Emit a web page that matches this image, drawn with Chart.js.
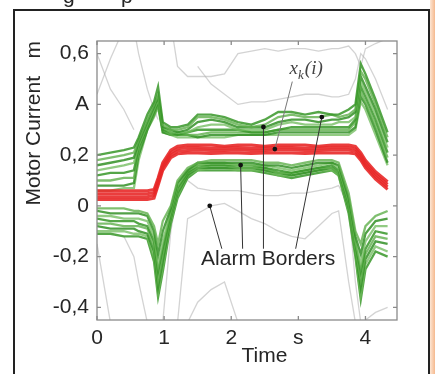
<!DOCTYPE html>
<html>
<head>
<meta charset="utf-8">
<script src="https://cdn.jsdelivr.net/npm/chart.js@4"></script>
<style>
  html, body { margin: 0; padding: 0; background: #fff; }
</style>
</head>
<body>
<canvas id="chMotor" width="435" height="374"></canvas>
<script>
// time grid (s) shared by all traces
var times = [0, 0.2, 0.4, 0.55, 0.62, 0.75, 0.85, 0.91, 0.98, 1.1, 1.2, 1.35, 1.5, 1.7, 1.9, 2.1,
             2.3, 2.5, 2.7, 2.9, 3.1, 3.3, 3.5, 3.6, 3.75, 3.85, 3.93, 4.0, 4.15, 4.33];

// upper alarm border runs (green)
var upperBorder = [
  [0.20,0.21,0.22,0.23,0.27,0.36,0.41,0.47,0.33,0.31,0.31,0.32,0.36,0.36,0.35,0.33,0.32,0.34,0.37,0.37,0.36,0.37,0.36,0.36,0.38,0.40,0.56,0.52,0.42,0.29],
  [0.18,0.19,0.20,0.21,0.26,0.34,0.40,0.44,0.32,0.30,0.30,0.31,0.35,0.35,0.34,0.32,0.31,0.32,0.35,0.36,0.35,0.35,0.36,0.35,0.36,0.38,0.53,0.50,0.40,0.27],
  [0.16,0.17,0.18,0.19,0.25,0.33,0.39,0.43,0.31,0.30,0.29,0.30,0.33,0.34,0.33,0.31,0.31,0.31,0.33,0.34,0.34,0.33,0.34,0.34,0.35,0.37,0.51,0.47,0.38,0.25],
  [0.14,0.15,0.16,0.17,0.24,0.32,0.38,0.42,0.31,0.29,0.29,0.29,0.31,0.32,0.32,0.30,0.30,0.30,0.32,0.33,0.32,0.32,0.32,0.33,0.33,0.35,0.49,0.45,0.36,0.23],
  [0.12,0.13,0.13,0.14,0.23,0.31,0.37,0.41,0.30,0.29,0.28,0.29,0.30,0.30,0.30,0.30,0.29,0.29,0.30,0.31,0.31,0.31,0.31,0.31,0.31,0.34,0.47,0.43,0.34,0.21],
  [0.10,0.10,0.11,0.11,0.22,0.31,0.36,0.40,0.30,0.28,0.28,0.28,0.28,0.29,0.29,0.29,0.29,0.29,0.30,0.30,0.30,0.30,0.30,0.30,0.30,0.33,0.45,0.41,0.32,0.19],
  [0.08,0.08,0.08,0.09,0.20,0.30,0.36,0.40,0.29,0.28,0.28,0.28,0.27,0.28,0.28,0.28,0.28,0.28,0.29,0.29,0.29,0.29,0.29,0.29,0.29,0.31,0.43,0.40,0.30,0.17],
  [0.06,0.06,0.07,0.07,0.18,0.30,0.35,0.39,0.29,0.28,0.27,0.27,0.27,0.27,0.27,0.28,0.28,0.28,0.28,0.28,0.28,0.28,0.28,0.28,0.28,0.30,0.41,0.38,0.28,0.16]
];

// lower alarm border runs (green)
var lowerBorder = [
  [-0.01,-0.01,-0.01,-0.02,-0.02,-0.03,-0.08,-0.15,-0.06,0.00,0.10,0.15,0.17,0.18,0.18,0.18,0.18,0.17,0.17,0.16,0.17,0.18,0.18,0.17,0.05,-0.10,-0.15,-0.08,-0.04,-0.02],
  [-0.02,-0.03,-0.03,-0.03,-0.03,-0.04,-0.10,-0.19,-0.10,-0.01,0.09,0.14,0.17,0.17,0.17,0.17,0.17,0.16,0.16,0.15,0.16,0.17,0.17,0.16,0.03,-0.12,-0.19,-0.11,-0.06,-0.05],
  [-0.04,-0.04,-0.05,-0.05,-0.05,-0.06,-0.12,-0.23,-0.14,-0.02,0.08,0.14,0.16,0.17,0.17,0.16,0.16,0.16,0.15,0.14,0.15,0.16,0.17,0.15,0.02,-0.14,-0.23,-0.14,-0.08,-0.08],
  [-0.05,-0.06,-0.06,-0.06,-0.07,-0.08,-0.14,-0.26,-0.17,-0.03,0.07,0.13,0.16,0.16,0.16,0.16,0.16,0.15,0.14,0.13,0.14,0.15,0.16,0.14,0.01,-0.15,-0.26,-0.17,-0.10,-0.11],
  [-0.07,-0.07,-0.08,-0.08,-0.08,-0.09,-0.16,-0.29,-0.19,-0.04,0.06,0.13,0.15,0.16,0.16,0.15,0.15,0.15,0.13,0.13,0.14,0.15,0.15,0.13,0.00,-0.17,-0.29,-0.19,-0.12,-0.13],
  [-0.08,-0.09,-0.09,-0.09,-0.10,-0.11,-0.18,-0.32,-0.22,-0.05,0.05,0.12,0.15,0.15,0.15,0.15,0.15,0.14,0.13,0.12,0.13,0.14,0.15,0.13,-0.01,-0.18,-0.32,-0.21,-0.14,-0.15],
  [-0.10,-0.10,-0.10,-0.11,-0.11,-0.12,-0.20,-0.34,-0.24,-0.06,0.04,0.12,0.14,0.15,0.15,0.14,0.14,0.14,0.12,0.12,0.13,0.14,0.14,0.12,-0.02,-0.19,-0.35,-0.23,-0.16,-0.18],
  [-0.11,-0.11,-0.12,-0.12,-0.12,-0.13,-0.22,-0.36,-0.26,-0.07,0.03,0.11,0.14,0.14,0.14,0.14,0.14,0.13,0.12,0.11,0.12,0.13,0.14,0.12,-0.03,-0.20,-0.37,-0.25,-0.18,-0.20]
];

// x_k(i) runs (red)
var meanTrace = [
  [0.060,0.060,0.060,0.060,0.060,0.060,0.065,0.11,0.17,0.22,0.235,0.240,0.240,0.240,0.235,0.240,0.240,0.235,0.240,0.240,0.240,0.235,0.240,0.240,0.240,0.235,0.21,0.18,0.135,0.095],
  [0.048,0.048,0.048,0.048,0.048,0.048,0.053,0.10,0.16,0.21,0.225,0.230,0.230,0.228,0.228,0.230,0.228,0.228,0.230,0.230,0.228,0.228,0.230,0.230,0.230,0.225,0.20,0.17,0.125,0.085],
  [0.036,0.036,0.036,0.036,0.036,0.036,0.042,0.09,0.15,0.20,0.215,0.218,0.220,0.218,0.218,0.220,0.218,0.218,0.220,0.220,0.218,0.218,0.220,0.220,0.220,0.215,0.19,0.16,0.115,0.075],
  [0.025,0.025,0.025,0.025,0.025,0.025,0.030,0.08,0.14,0.19,0.205,0.208,0.208,0.206,0.208,0.208,0.206,0.208,0.208,0.208,0.206,0.208,0.208,0.208,0.208,0.205,0.18,0.15,0.105,0.065]
];

// other recorded runs (light gray background)
var n = null;
var otherRuns = [
  [n,n,n,n,n,n,n,n,n,0.72,0.55,0.51,0.51,0.51,0.52,0.60,0.61,0.62,0.61,0.62,0.62,0.61,0.62,0.62,0.63,0.60,0.55,0.62,0.64,0.66],
  [n,n,n,n,n,n,n,n,n,n,n,n,0.55,0.48,0.44,0.40,0.41,0.41,0.42,0.43,0.44,0.44,0.43,0.43,0.44,0.50,0.60,0.58,0.50,0.38],
  [0.44,0.58,0.70,n,n,n,n,n,n,n,n,n,n,n,n,n,n,n,n,n,n,n,n,n,n,n,n,n,n,n],
  [n,n,n,0.70,0.60,0.46,0.38,0.34,n,n,n,n,n,n,n,n,n,n,n,n,n,n,n,n,n,n,n,n,n,n],
  [0.60,0.46,0.38,0.30,n,n,n,n,n,n,n,n,n,n,n,n,n,n,n,n,n,n,n,n,n,n,n,n,n,n],
  [n,n,n,n,n,n,n,n,n,n,-0.46,-0.05,-0.03,0.00,0.01,-0.02,-0.05,-0.07,-0.10,-0.12,-0.13,-0.08,-0.03,-0.02,-0.30,-0.46,n,n,n,n],
  [n,n,n,n,n,n,n,n,n,n,n,0.10,0.07,0.06,0.06,0.06,0.05,0.04,0.04,0.05,0.05,0.06,0.07,0.08,0.00,-0.30,-0.46,n,n,n],
  [n,n,n,n,n,n,n,n,n,n,n,-0.46,-0.38,-0.33,-0.30,-0.46,n,n,n,n,n,n,n,n,n,n,n,n,n,n],
  [-0.15,-0.46,n,n,n,n,n,n,n,n,n,n,n,n,n,n,n,n,n,n,n,n,n,n,n,n,n,n,n,n],
  [n,n,-0.12,-0.20,-0.30,-0.46,n,n,n,n,n,n,n,n,n,n,n,n,n,n,n,n,n,n,n,n,n,n,n,n],
  [n,n,n,n,n,n,n,n,-0.46,-0.10,0.05,n,n,n,n,n,n,n,n,n,n,n,n,n,n,n,n,n,n,n],
  [n,n,n,n,n,n,n,n,n,n,n,n,n,n,n,n,n,n,n,n,n,n,n,n,n,n,n,-0.45,-0.42,-0.40]
];

var xTicks = [0, 1, 2, 3, 4];
var xTickLabels = ['0', '1', '2', 's', '4'];
var yTicks = [-0.4, -0.2, 0, 0.2, 0.4, 0.6];
var yTickLabels = ['-0,4', '-0,2', '0', '0,2', 'A', '0,6'];

var greens = ['rgba(55,150,40,0.85)', 'rgba(95,175,75,0.8)', 'rgba(50,145,38,0.85)', 'rgba(110,185,90,0.75)'];
var txt = '#262626';
var font = "'Liberation Sans', Arial, sans-serif";

function toPoints(vals) {
  return times.map(function (t, i) { return { x: t, y: vals[i] }; });
}

var datasets = [];
meanTrace.forEach(function (v) {
  datasets.push({ data: toPoints(v), borderColor: 'rgba(232,40,40,0.9)', borderWidth: 3, order: 1 });
});
upperBorder.forEach(function (v, i) {
  datasets.push({ data: toPoints(v), borderColor: greens[i % 4], borderWidth: 2.3, order: 2 });
});
lowerBorder.forEach(function (v, i) {
  datasets.push({ data: toPoints(v), borderColor: greens[(i + 1) % 4], borderWidth: 2.3, order: 2 });
});
otherRuns.forEach(function (v) {
  datasets.push({ data: toPoints(v), borderColor: 'rgba(175,175,175,0.55)', borderWidth: 1.3, order: 3 });
});

// frame, plot box, inward ticks and the annotations
var decor = {
  id: 'decor',
  beforeDraw: function (chart) {
    var c = chart.ctx;
    c.save();
    c.fillStyle = '#fff';
    c.fillRect(0, 0, chart.width, chart.height);
    var g = c.createLinearGradient(430, 0, 435, 0);
    g.addColorStop(0, '#fde6d4');
    g.addColorStop(1, '#f5b98e');
    c.fillStyle = g;
    c.fillRect(430, 0, 5, chart.height);
    c.restore();
  },
  afterDatasetsDraw: function (chart) {
    var c = chart.ctx, a = chart.chartArea;
    var xs = chart.scales.x, ys = chart.scales.y;
    c.save();
    // plot box
    c.strokeStyle = '#8a8a8a';
    c.lineWidth = 1.3;
    c.strokeRect(a.left, a.top, a.right - a.left, a.bottom - a.top);
    c.beginPath();
    xTicks.forEach(function (t) {
      var px = xs.getPixelForValue(t);
      c.moveTo(px, a.bottom); c.lineTo(px, a.bottom - 4);
      c.moveTo(px, a.top); c.lineTo(px, a.top + 4);
    });
    yTicks.forEach(function (v) {
      var py = ys.getPixelForValue(v);
      c.moveTo(a.left, py); c.lineTo(a.left + 4, py);
      c.moveTo(a.right, py); c.lineTo(a.right - 4, py);
    });
    c.stroke();

    function P(t, v) { return [xs.getPixelForValue(t), ys.getPixelForValue(v)]; }

    // "Alarm Borders" label box
    var b0 = P(1.34, -0.142), b1 = P(3.63, -0.295);
    c.fillStyle = '#fff';
    c.fillRect(b0[0], b0[1], b1[0] - b0[0], b1[1] - b0[1]);

    // leader lines
    c.strokeStyle = '#333';
    c.lineWidth = 1;
    var leaders = [[1.68, 0.0, 1.86], [2.14, 0.161, 2.17], [2.48, 0.311, 2.48], [3.35, 0.35, 2.96]];
    c.beginPath();
    leaders.forEach(function (l) {
      var p = P(l[0], l[1]), q = P(l[2], -0.169);
      c.moveTo(p[0], p[1]); c.lineTo(q[0], q[1]);
    });
    c.stroke();
    c.strokeStyle = '#777';
    var k0 = P(2.91, 0.49), k1 = P(2.65, 0.224);
    c.beginPath(); c.moveTo(k0[0], k0[1]); c.lineTo(k1[0], k1[1]); c.stroke();

    c.fillStyle = '#111';
    leaders.concat([[2.65, 0.224]]).forEach(function (l) {
      var p = P(l[0], l[1]);
      c.beginPath(); c.arc(p[0], p[1], 2.4, 0, Math.PI * 2); c.fill();
    });

    c.fillStyle = txt;
    c.font = '21px ' + font;
    c.textAlign = 'center';
    c.textBaseline = 'middle';
    var lp = P(2.55, -0.209);
    c.fillText('Alarm Borders', lp[0], lp[1]);

    // x_k(i)
    var xp = P(2.87, 0.52);
    c.fillStyle = '#444';
    c.textAlign = 'left';
    c.textBaseline = 'alphabetic';
    c.font = "italic 19px 'Liberation Serif', serif";
    c.fillText('x', xp[0], xp[1]);
    var wx = c.measureText('x').width;
    c.font = "italic 13px 'Liberation Serif', serif";
    c.fillText('k', xp[0] + wx, xp[1] + 5);
    var wk = c.measureText('k').width;
    c.font = "italic 19px 'Liberation Serif', serif";
    c.fillText('(i)', xp[0] + wx + wk + 1, xp[1]);
    c.restore();
  },
  afterDraw: function (chart) {
    var c = chart.ctx;
    c.save();
    c.strokeStyle = '#222';
    c.lineWidth = 2;
    c.strokeRect(14, 10, 415, 400);
    c.fillStyle = txt;
    c.font = '21px ' + font;
    c.textBaseline = 'alphabetic';
    c.fillText('g', 63, 2.5);
    c.fillText('p', 121, 2.5);
    c.restore();
  }
};

new Chart(document.getElementById('chMotor'), {
  type: 'line',
  data: { datasets: datasets },
  plugins: [decor],
  options: {
    responsive: false,
    animation: false,
    devicePixelRatio: 1,
    layout: { padding: { left: 0, right: 38, top: 41, bottom: 0 } },
    elements: { point: { radius: 0 }, line: { tension: 0, fill: false } },
    plugins: { legend: { display: false }, tooltip: { enabled: false } },
    scales: {
      x: {
        type: 'linear',
        min: 0,
        max: 4.47,
        afterBuildTicks: function (s) { s.ticks = xTicks.map(function (v) { return { value: v }; }); },
        afterFit: function (s) { s.height = 54; },
        grid: { display: false, drawTicks: false },
        border: { display: false },
        ticks: {
          padding: 6,
          maxRotation: 0,
          autoSkip: false,
          color: txt,
          font: { family: font, size: 21 },
          callback: function (v, i) { return xTickLabels[i]; }
        },
        title: {
          display: true,
          text: '      Time',
          color: txt,
          font: { family: font, size: 21 },
          padding: { top: 0, bottom: 5 }
        }
      },
      y: {
        min: -0.45,
        max: 0.65,
        afterBuildTicks: function (s) { s.ticks = yTicks.map(function (v) { return { value: v }; }); },
        afterFit: function (s) { s.width = 97; },
        grid: { display: false, drawTicks: false },
        border: { display: false },
        ticks: {
          padding: 8,
          autoSkip: false,
          color: txt,
          font: { family: font, size: 21 },
          callback: function (v, i) { return yTickLabels[i]; }
        },
        title: {
          display: true,
          text: 'Motor Current   m',
          align: 'end',
          color: txt,
          font: { family: font, size: 21 },
          padding: { top: 22, bottom: 0 }
        }
      }
    }
  }
});
</script>
</body>
</html>
